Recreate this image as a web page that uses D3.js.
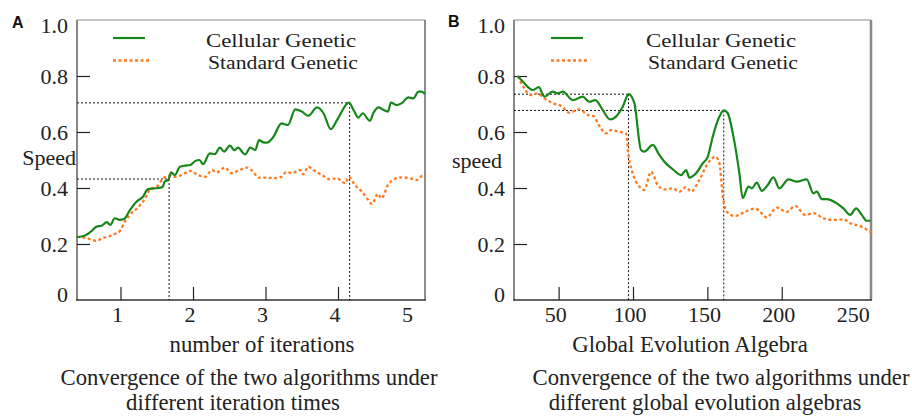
<!DOCTYPE html>
<html><head><meta charset="utf-8">
<script src="https://cdn.jsdelivr.net/npm/d3@7"></script>
<style>
html,body{margin:0;padding:0;background:#fff;}
svg{display:block;}
text{font-family:"Liberation Serif","Times New Roman",serif;fill:#222;}
</style></head>
<body>
<svg id="chart" width="912" height="419"></svg>
<script>
// ---------- DATA ----------
const seriesNames = ["Cellular Genetic", "Standard Genetic"];
const yTicks = [0, 0.2, 0.4, 0.6, 0.8, 1.0];
const yTickLabels = ["0", "0.2", "0.4", "0.6", "0.8", "1.0"];

// Panel A : number of iterations
const aXTicks = [1, 2, 3, 4, 5];
const aCellX = [0.40,0.51,0.60,0.67,0.74,0.81,0.86,0.92,0.99,1.05,1.13,1.22,1.31,1.38,1.48,1.58,1.61,1.66,1.70,1.75,1.82,1.89,1.96,2.03,2.09,2.14,2.23,2.30,2.37,2.43,2.51,2.57,2.62,2.72,2.79,2.86,2.91,2.97,3.02,3.11,3.22,3.31,3.41,3.50,3.59,3.71,3.80,3.90,4.00,4.15,4.22,4.28,4.34,4.44,4.49,4.56,4.61,4.69,4.73,4.81,4.88,4.97,5.04,5.11,5.15,5.20];
const aCellY = [0.224,0.230,0.246,0.262,0.265,0.278,0.268,0.292,0.286,0.289,0.321,0.351,0.369,0.396,0.399,0.403,0.423,0.429,0.456,0.446,0.476,0.480,0.482,0.496,0.500,0.485,0.524,0.521,0.544,0.530,0.551,0.535,0.544,0.520,0.544,0.536,0.571,0.563,0.562,0.583,0.631,0.625,0.681,0.673,0.658,0.688,0.667,0.610,0.649,0.705,0.676,0.651,0.667,0.640,0.669,0.688,0.681,0.673,0.705,0.696,0.703,0.724,0.720,0.744,0.744,0.736];
const aStdX = [0.40,0.49,0.58,0.67,0.74,0.83,0.92,0.99,1.06,1.15,1.25,1.34,1.41,1.50,1.58,1.66,1.75,1.84,1.96,2.07,2.17,2.26,2.33,2.44,2.53,2.62,2.74,2.83,2.90,2.99,3.13,3.22,3.29,3.36,3.48,3.52,3.59,3.66,3.78,3.89,3.98,4.10,4.15,4.23,4.33,4.41,4.47,4.55,4.60,4.69,4.76,4.88,4.99,5.09,5.16];
const aStdY = [0.226,0.223,0.217,0.211,0.220,0.226,0.236,0.246,0.280,0.310,0.333,0.363,0.396,0.405,0.432,0.444,0.440,0.446,0.461,0.446,0.440,0.464,0.456,0.473,0.453,0.461,0.473,0.458,0.437,0.437,0.435,0.440,0.458,0.453,0.464,0.449,0.476,0.464,0.446,0.431,0.435,0.417,0.440,0.411,0.387,0.360,0.343,0.379,0.363,0.411,0.429,0.438,0.435,0.429,0.446];
const aGuides = [[1.67, 0.432], [4.16, 0.704]];

// Panel B : global evolution algebra
const bXTicks = [50, 100, 150, 200, 250];
const bCellX = [22.5,25.9,32.6,36.6,40.4,46.0,49.4,52.8,59.5,66.2,70.6,74.7,79.6,84.6,88.6,93.1,97.1,100.9,105.4,107.6,113.3,117.7,121.1,126.7,132.3,135.7,137.9,142.4,146.9,150.3,153.6,158.1,161.0,163.7,167.1,171.5,173.7,177.6,179.9,183.2,186.6,190.6,194.4,198.4,204.5,210.1,216.8,221.3,223.6,226.9,230.3,237.0,241.5,246.0,250.0,253.8,257.2,259.7];
const bCellY = [0.800,0.780,0.750,0.760,0.726,0.744,0.738,0.744,0.714,0.726,0.708,0.714,0.679,0.645,0.655,0.690,0.735,0.703,0.536,0.530,0.554,0.518,0.494,0.467,0.446,0.464,0.437,0.453,0.488,0.512,0.583,0.655,0.677,0.667,0.595,0.453,0.364,0.405,0.399,0.419,0.390,0.411,0.438,0.399,0.431,0.423,0.431,0.381,0.387,0.360,0.360,0.345,0.327,0.304,0.327,0.304,0.283,0.283];
const bStdX = [22.5,26.9,31.4,35.9,40.4,46.0,51.6,57.2,63.9,69.6,74.0,76.3,78.5,81.9,85.2,90.8,95.3,97.1,99.8,104.3,107.6,112.1,116.6,121.1,126.7,131.2,135.7,139.0,144.6,150.3,155.4,158.1,160.4,163.0,168.6,174.2,182.1,185.4,189.9,196.7,203.4,209.0,215.7,221.3,228.0,234.7,241.5,246.0,252.7,260.0];
const bStdY = [0.800,0.756,0.732,0.738,0.720,0.703,0.693,0.669,0.681,0.661,0.655,0.631,0.613,0.595,0.607,0.601,0.595,0.512,0.452,0.405,0.393,0.458,0.411,0.395,0.399,0.387,0.403,0.387,0.429,0.488,0.512,0.488,0.369,0.315,0.300,0.312,0.327,0.315,0.295,0.330,0.315,0.336,0.304,0.310,0.292,0.286,0.288,0.274,0.264,0.242];
const bGuides = [[97, 0.735], [161, 0.677]];

const colors = ["#17871a", "#ff7a1f"];

// ---------- DRAW ----------
const svg = d3.select("#chart");

const panels = [
  {letter:"A", lx:12, ly:28, x0:77, x1:425, dom:[0.4,5.2], xt:aXTicks, xtShown:[1,2,3,4],
   cell:[aCellX,aCellY], std:[aStdX,aStdY], guides:aGuides,
   ylab:"Speed", ylabX:76, ylabY:165, xlab:"number of iterations", xlabX:262,
   cap:["Convergence of the two algorithms under","different iteration times"], capX:[249,233],
   legX:113, txtX:[206,208], rightColor:"#444", rightW:1.2},
  {letter:"B", lx:448, ly:27, x0:514, x1:871, dom:[20,260], xt:bXTicks, xtShown:[50,100,150,200],
   cell:[bCellX,bCellY], std:[bStdX,bStdY], guides:bGuides,
   ylab:"speed", ylabX:502, ylabY:168, xlab:"Global Evolution Algebra", xlabX:690,
   cap:["Convergence of the two algorithms under","different global evolution algebras"], capX:[721,705],
   legX:551, txtX:[646,648], rightColor:"#888", rightW:2.5}
];

const yTop = 20, yBot = 300;
const y = d3.scaleLinear().domain([0,1]).range([yBot, yTop]);

panels.forEach(p => {
  const x = d3.scaleLinear().domain(p.dom).range([p.x0, p.x1]);
  const g = svg.append("g");

  // panel letter
  svg.append("text").attr("x", p.lx).attr("y", p.ly)
    .style("font-family", "'Liberation Sans',Arial,sans-serif")
    .style("font-weight", "bold").style("font-size", "16px").style("fill", "#111")
    .text(p.letter);

  // frame
  g.append("line").attr("x1", p.x0).attr("x2", p.x1).attr("y1", yTop).attr("y2", yTop)
    .attr("stroke", "#888").attr("stroke-width", 1.2);
  g.append("line").attr("x1", p.x1).attr("x2", p.x1).attr("y1", yTop).attr("y2", yBot)
    .attr("stroke", p.rightColor).attr("stroke-width", p.rightW);
  g.append("line").attr("x1", p.x0).attr("x2", p.x0).attr("y1", yTop).attr("y2", yBot)
    .attr("stroke", "#888").attr("stroke-width", 2);
  g.append("line").attr("x1", p.x0-1).attr("x2", p.x1+1).attr("y1", yBot).attr("y2", yBot)
    .attr("stroke", "#333").attr("stroke-width", 1.5);

  // y axis ticks (inward) + labels
  const yAxis = d3.axisRight(y).tickValues(yTicks.filter(v => v > 0 && v < 1))
    .tickSize(13).tickFormat("");
  const ya = g.append("g").attr("transform", `translate(${p.x0},0)`).call(yAxis);
  ya.select(".domain").remove();
  ya.selectAll(".tick line").attr("stroke", "#222").attr("stroke-width", 1.2);

  yTicks.forEach((v, i) => {
    let yy = y(v) + 8;
    if (v === 1) yy += 5;
    if (v === 0) yy -= 6;
    g.append("text").attr("x", p.x0 - 9).attr("y", yy)
      .attr("text-anchor", "end").style("font-size", "22px")
      .text(yTickLabels[i]);
  });

  // x axis ticks (inward) + labels
  const xAxis = d3.axisTop(x).tickValues(p.xtShown).tickSize(13).tickFormat("");
  const xa = g.append("g").attr("transform", `translate(0,${yBot})`).call(xAxis);
  xa.select(".domain").remove();
  xa.selectAll(".tick line").attr("stroke", "#222").attr("stroke-width", 1.2);
  p.xt.forEach(v => {
    g.append("text").attr("x", x(v) - 3).attr("y", 322)
      .attr("text-anchor", "middle").style("font-size", "22px").text(v);
  });

  // axis titles
  g.append("text").attr("x", p.ylabX).attr("y", p.ylabY).attr("text-anchor", "end")
    .style("font-size", "22px").text(p.ylab);
  g.append("text").attr("x", p.xlabX).attr("y", 352).attr("text-anchor", "middle")
    .style("font-size", "22.8px").text(p.xlab);
  p.cap.forEach((c, i) => {
    g.append("text").attr("x", p.capX[i]).attr("y", 385 + i*25).attr("text-anchor", "middle")
      .style("font-size", "22.7px").text(c);
  });

  // guide lines
  p.guides.forEach(([gx, gy]) => {
    g.append("line").attr("x1", p.x0).attr("x2", x(gx)).attr("y1", y(gy)).attr("y2", y(gy))
      .attr("stroke", "#111").attr("stroke-width", 1).attr("stroke-dasharray", "2,2");
    g.append("line").attr("x1", x(gx)).attr("x2", x(gx)).attr("y1", y(gy)).attr("y2", yBot)
      .attr("stroke", "#111").attr("stroke-width", 1).attr("stroke-dasharray", "2,2");
  });

  // lines
  const line = d3.line().x(d => x(d[0])).y(d => y(d[1])).curve(d3.curveMonotoneX);
  const cellPts = p.cell[0].map((v, i) => [v, p.cell[1][i]]);
  const stdPts = p.std[0].map((v, i) => [v, p.std[1][i]]);
  g.append("path").datum(stdPts).attr("d", line).attr("fill", "none")
    .attr("stroke", colors[1]).attr("stroke-width", 2.3).attr("stroke-dasharray", "3,2.5");
  g.append("path").datum(cellPts).attr("d", line).attr("fill", "none")
    .attr("stroke", colors[0]).attr("stroke-width", 2.2);

  // legend
  g.append("line").attr("x1", p.legX).attr("x2", p.legX + 32).attr("y1", 38).attr("y2", 38)
    .attr("stroke", colors[0]).attr("stroke-width", 2.2);
  g.append("line").attr("x1", p.legX).attr("x2", p.legX + 37).attr("y1", 60.5).attr("y2", 60.5)
    .attr("stroke", colors[1]).attr("stroke-width", 2.3).attr("stroke-dasharray", "3,2.5");
  g.append("text").attr("x", p.txtX[0]).attr("y", 46.5).style("font-size", "19.5px")
    .attr("textLength", 150).attr("lengthAdjust", "spacingAndGlyphs").text(seriesNames[0]);
  g.append("text").attr("x", p.txtX[1]).attr("y", 68.5).style("font-size", "19.5px")
    .attr("textLength", 150).attr("lengthAdjust", "spacingAndGlyphs").text(seriesNames[1]);
});
</script>
</body></html>
